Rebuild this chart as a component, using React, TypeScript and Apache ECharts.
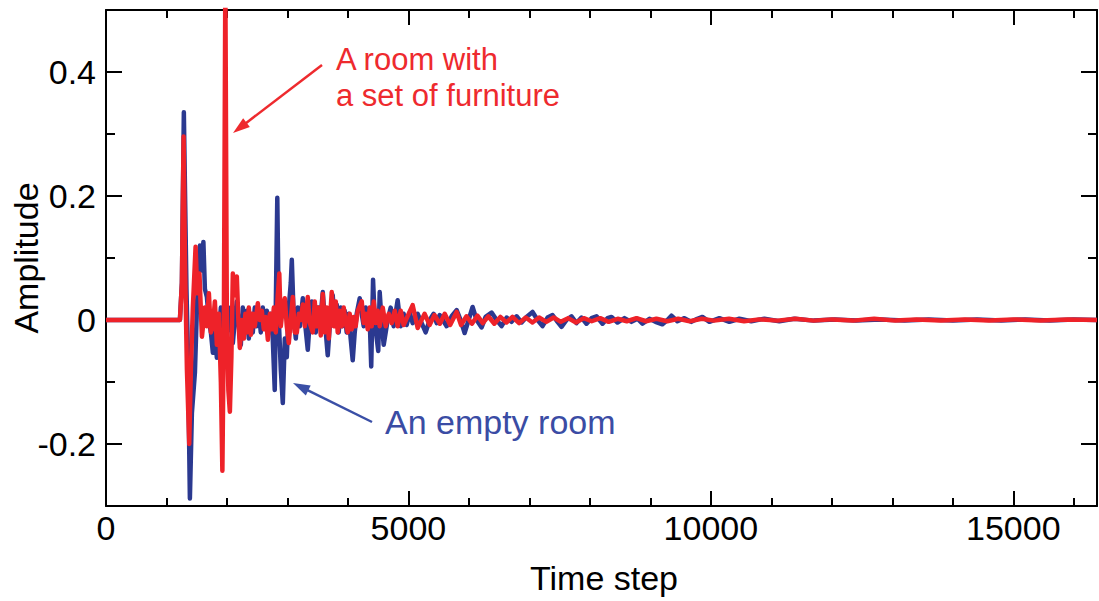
import React, { useEffect, useRef } from 'react';
import * as echarts from 'echarts';

const X_MIN = 0;
const X_MAX = 16384;
const Y_MIN = -0.3;
const Y_MAX = 0.5;

const xMajorInterval = 5000;
const xMinorInterval = 1000;
const yMajorInterval = 0.2;
const yMinorInterval = 0.1;

const xTitle = 'Time step';
const yTitle = 'Amplitude';
const furnishedLabel = ['A room with', 'a set of furniture'];
const emptyLabel = 'An empty room';

// [time step, amplitude] – empty room (blue)
const emptyRoom: number[][] = [
  [0, 0], [1200, 0], [1222, 0], [1255, 0.06], [1287, 0.335], [1330, 0.05], [1354, -0.05],
  [1387, -0.288], [1420, -0.15], [1470, -0.085], [1503, 0.02], [1553, 0.12], [1586, 0.08],
  [1610, 0.126], [1635, 0.05], [1668, 0.037], [1701, 0.0], [1734, -0.02], [1767, -0.053],
  [1800, -0.02], [1833, -0.061], [1866, -0.02], [1899, 0.02], [1932, -0.01], [1965, 0.02],
  [1998, -0.02], [2023, 0.02], [2064, -0.01], [2097, -0.037], [2130, 0.0], [2163, 0.03],
  [2196, -0.01], [2229, -0.04], [2262, 0.02], [2295, -0.02], [2328, 0.015], [2361, -0.03],
  [2394, 0.01], [2427, -0.02], [2460, 0.02], [2493, -0.01], [2526, 0.015], [2559, -0.02],
  [2592, 0.02], [2625, -0.01], [2658, 0.015], [2691, -0.02], [2724, 0.01], [2757, -0.03],
  [2790, -0.113], [2807, 0.02], [2832, 0.197], [2857, 0.0], [2890, -0.08], [2923, -0.134],
  [2956, -0.03], [2989, -0.06], [3022, 0.02], [3055, 0.06], [3072, 0.097], [3105, 0.0],
  [3138, -0.03], [3171, 0.02], [3204, -0.01], [3254, 0.035], [3286, 0.0], [3336, -0.048],
  [3369, 0.0], [3402, 0.03], [3435, 0.01], [3468, -0.02], [3501, 0.02], [3534, -0.01],
  [3584, 0.045], [3617, 0.0], [3666, -0.057], [3699, -0.01], [3748, 0.04], [3781, 0.0],
  [3814, 0.025], [3847, -0.02], [3880, 0.02], [3913, -0.01], [3946, 0.015], [3979, -0.02],
  [4012, 0.01], [4045, -0.03], [4079, -0.065], [4112, -0.02], [4145, 0.01], [4195, 0.035],
  [4228, 0.01], [4261, -0.01], [4294, 0.02], [4327, -0.01], [4360, 0.0], [4385, -0.075],
  [4415, 0.065], [4443, 0.0], [4476, -0.03], [4501, -0.05], [4525, 0.045], [4558, -0.005],
  [4591, -0.04], [4624, -0.02], [4657, 0.0], [4707, 0.02], [4756, -0.01], [4822, 0.032],
  [4872, -0.01], [4921, 0.01], [4971, -0.008], [5021, 0.012], [5070, -0.005], [5153, 0.01],
  [5219, -0.005], [5285, -0.02], [5351, 0.0], [5417, 0.01], [5467, -0.005], [5516, 0.008],
  [5632, -0.01], [5715, 0.006], [5797, 0.016], [5863, 0.0], [5929, -0.021], [5995, 0.0],
  [6061, 0.021], [6127, 0.0], [6210, -0.012], [6276, 0.005], [6375, 0.012], [6458, 0.0],
  [6540, -0.01], [6623, 0.004], [6705, -0.003], [6788, 0.006], [6871, -0.004], [6953, 0.005],
  [7052, 0.013], [7135, 0.0], [7217, -0.01], [7300, 0.004], [7382, 0.008], [7465, -0.003],
  [7531, -0.011], [7614, 0.0], [7696, 0.006], [7779, -0.005], [7861, 0.004], [7944, -0.006],
  [8027, 0.003], [8109, 0.006], [8209, -0.006], [8291, 0.003], [8357, 0.005], [8456, -0.004],
  [8572, 0.003], [8687, -0.003], [8787, 0.002], [8869, -0.006], [8985, 0.002], [9084, -0.003],
  [9199, -0.007], [9282, 0.0], [9348, 0.007], [9447, -0.002], [9563, 0.003], [9678, -0.003],
  [9777, 0.002], [9860, 0.005], [9976, -0.003], [10141, 0.003], [10306, -0.003], [10471, 0.002],
  [10669, -0.002], [10884, 0.002], [11132, -0.002], [11380, 0.002], [11700, -0.001],
  [12050, 0.001], [12400, -0.001], [12800, 0.001], [13200, -0.001], [13600, 0.001],
  [14000, -0.001], [14400, 0.001], [14800, -0.001], [15200, 0.001], [15600, -0.001],
  [16000, 0.001], [16384, 0],
];

// [time step, amplitude] – room with furniture (red)
const furnishedRoom: number[][] = [
  [0, 0], [1200, 0], [1222, 0], [1255, 0.06], [1283, 0.296], [1305, 0.1], [1338, -0.08],
  [1376, -0.2], [1403, -0.08], [1436, 0.02], [1481, 0.118], [1510, 0.043], [1545, 0.075],
  [1586, -0.027], [1635, 0.02], [1668, -0.01], [1701, 0.043], [1734, -0.02], [1767, -0.01],
  [1800, 0.03], [1833, -0.04], [1866, 0.01], [1899, -0.1], [1924, -0.243], [1949, 0.0],
  [1973, 0.55], [1998, 0.0], [2023, -0.113], [2048, -0.148], [2073, -0.06], [2097, 0.075],
  [2130, 0.04], [2163, 0.07], [2188, 0.0], [2213, -0.045], [2246, 0.0], [2279, -0.03],
  [2304, 0.01], [2328, -0.02], [2361, 0.02], [2394, -0.024], [2427, 0.01], [2460, -0.01],
  [2510, 0.027], [2543, 0.0], [2576, 0.015], [2609, -0.015], [2642, 0.005], [2676, -0.032],
  [2709, 0.01], [2742, -0.015], [2775, 0.02], [2807, -0.02], [2840, 0.04], [2865, 0.075],
  [2890, -0.01], [2923, 0.02], [2956, 0.035], [2989, -0.01], [3022, -0.037], [3055, 0.0],
  [3088, 0.037], [3121, -0.02], [3155, -0.02], [3188, 0.01], [3221, 0.0], [3254, 0.025],
  [3286, -0.01], [3336, 0.037], [3369, -0.005], [3418, -0.02], [3451, 0.03], [3484, -0.01],
  [3518, 0.02], [3551, -0.025], [3584, 0.042], [3617, -0.02], [3650, 0.02], [3683, -0.03],
  [3732, 0.045], [3765, -0.01], [3798, 0.03], [3831, -0.02], [3864, 0.015], [3897, -0.01],
  [3930, 0.02], [3963, -0.005], [3996, -0.02], [4029, 0.01], [4062, -0.015], [4095, 0.005],
  [4128, -0.01], [4162, 0.015], [4228, 0.03], [4261, -0.005], [4294, 0.01], [4327, -0.015],
  [4360, 0.02], [4393, -0.01], [4426, 0.03], [4459, -0.005], [4492, 0.015], [4525, -0.01],
  [4575, 0.02], [4624, -0.01], [4674, 0.01], [4723, -0.005], [4773, 0.015], [4822, -0.01],
  [4872, 0.015], [4921, -0.008], [5005, 0.01], [5070, 0.024], [5153, -0.013], [5268, 0.01],
  [5350, -0.008], [5430, 0.008], [5520, -0.006], [5600, 0.01], [5690, -0.008], [5797, 0.013],
  [5870, -0.008], [5960, 0.006], [6050, -0.006], [6140, 0.007], [6230, -0.005], [6320, 0.006],
  [6420, -0.006], [6520, 0.005], [6620, -0.004], [6720, 0.005], [6830, -0.005], [6940, 0.004],
  [7050, -0.004], [7160, 0.004], [7280, -0.003], [7400, 0.004], [7520, -0.003], [7640, 0.003],
  [7770, -0.004], [7900, 0.003], [8030, -0.002], [8170, 0.003], [8310, -0.003], [8460, 0.002],
  [8610, -0.002], [8770, 0.003], [8930, -0.002], [9100, 0.002], [9280, -0.002], [9460, 0.002],
  [9650, -0.002], [9850, 0.002], [10050, -0.001], [10300, 0.002], [10550, -0.002],
  [10800, 0.001], [11100, -0.001], [11400, 0.002], [11700, -0.001], [12000, 0.001],
  [12350, -0.001], [12700, 0.002], [13050, -0.001], [13400, 0.001], [13800, -0.001],
  [14200, 0.001], [14600, -0.001], [15000, 0.001], [15450, -0.001], [15900, 0.001], [16384, 0],
];

const FONT = "'Liberation Sans', Arial, Helvetica, sans-serif";
const BLUE_LINE = '#2b3990';
const RED_LINE = '#ee2229';
const BLUE_TEXT = '#3a4ca4';
const RED_TEXT = '#ee2a2e';

function xAxisDef(position: string, interval: number, tickLen: number, main: boolean) {
  return {
    type: 'value',
    position,
    min: X_MIN,
    max: X_MAX,
    interval,
    axisLine: { show: main, onZero: false, lineStyle: { color: '#000', width: 2 } },
    axisTick: { show: true, inside: true, length: tickLen, lineStyle: { color: '#000', width: 2 } },
    axisLabel: {
      show: main && position === 'bottom',
      fontSize: 34,
      color: '#000',
      fontFamily: FONT,
      margin: 5,
      formatter: (v: number) => String(v),
    },
    splitLine: { show: false },
  };
}

function yAxisDef(position: string, major: boolean) {
  const base: any = {
    type: 'value',
    position,
    min: Y_MIN,
    max: Y_MAX,
    axisLine: { show: major, onZero: false, lineStyle: { color: '#000', width: 2 } },
    axisTick: { show: true, inside: true, length: major ? 16 : 9, lineStyle: { color: '#000', width: 2 } },
    axisLabel: {
      show: major && position === 'left',
      fontSize: 34,
      color: '#000',
      fontFamily: FONT,
      margin: 10,
      showMinLabel: false,
      showMaxLabel: false,
      formatter: (v: number) => (Math.abs(v) < 1e-9 ? '0' : String(Math.round(v * 10) / 10)),
    },
    splitLine: { show: false },
  };
  if (major) {
    base.splitNumber = 4;
    base.minInterval = yMajorInterval;
    base.maxInterval = yMajorInterval;
  } else {
    base.interval = yMinorInterval;
  }
  return base;
}

function arrow(x1: number, y1: number, tx: number, ty: number, color: string) {
  const dx = tx - x1;
  const dy = ty - y1;
  const len = Math.sqrt(dx * dx + dy * dy);
  const ux = dx / len;
  const uy = dy / len;
  const headLen = 17;
  const headHalf = 5.5;
  const bx = tx - ux * headLen;
  const by = ty - uy * headLen;
  const px = -uy;
  const py = ux;
  return [
    {
      type: 'line',
      shape: { x1, y1, x2: bx + ux * 2, y2: by + uy * 2 },
      style: { stroke: color, lineWidth: 2.5 },
      silent: true,
    },
    {
      type: 'polygon',
      shape: {
        points: [
          [tx, ty],
          [bx + px * headHalf, by + py * headHalf],
          [bx - px * headHalf, by - py * headHalf],
        ],
      },
      style: { fill: color },
      silent: true,
    },
  ];
}

export default function App() {
  const ref = useRef<HTMLDivElement>(null);

  useEffect(() => {
    if (!ref.current) return;
    const chart = echarts.init(ref.current, undefined, { renderer: 'svg' });
    const option: any = {
      animation: false,
      backgroundColor: '#fff',
      grid: { left: 106, right: 2, top: 10, bottom: 95, containLabel: false },
      xAxis: [
        xAxisDef('bottom', xMajorInterval, 15, true),
        xAxisDef('bottom', xMinorInterval, 8, false),
        xAxisDef('top', xMajorInterval, 15, true),
        xAxisDef('top', xMinorInterval, 8, false),
      ],
      yAxis: [
        yAxisDef('left', true),
        yAxisDef('left', false),
        yAxisDef('right', true),
        yAxisDef('right', false),
      ],
      series: [
        {
          name: 'An empty room',
          type: 'line',
          xAxisIndex: 0,
          yAxisIndex: 0,
          data: emptyRoom,
          showSymbol: false,
          symbol: 'none',
          clip: true,
          lineStyle: { color: BLUE_LINE, width: 4.5, join: 'round' },
          z: 2,
        },
        {
          name: 'A room with a set of furniture',
          type: 'line',
          xAxisIndex: 0,
          yAxisIndex: 0,
          data: furnishedRoom,
          showSymbol: false,
          symbol: 'none',
          clip: true,
          lineStyle: { color: RED_LINE, width: 4.5, join: 'round' },
          z: 3,
        },
      ],
      graphic: [
        {
          type: 'text',
          x: 604,
          y: 578,
          style: { text: xTitle, font: `34px ${FONT}`, fill: '#000', align: 'center', verticalAlign: 'middle' },
        },
        {
          type: 'text',
          x: 26,
          y: 258,
          rotation: Math.PI / 2,
          style: { text: yTitle, font: `34px ${FONT}`, fill: '#000', align: 'center', verticalAlign: 'middle' },
        },
        {
          type: 'text',
          x: 336,
          y: 59,
          style: { text: furnishedLabel[0], font: `31px ${FONT}`, fill: RED_TEXT, align: 'left', verticalAlign: 'middle' },
        },
        {
          type: 'text',
          x: 336,
          y: 95,
          style: { text: furnishedLabel[1], font: `31px ${FONT}`, fill: RED_TEXT, align: 'left', verticalAlign: 'middle' },
        },
        {
          type: 'text',
          x: 385,
          y: 422,
          style: { text: emptyLabel, font: `34px ${FONT}`, fill: BLUE_TEXT, align: 'left', verticalAlign: 'middle' },
        },
        ...arrow(322, 65, 233, 133, RED_TEXT),
        ...arrow(372, 422, 293, 383, '#3a4fa6'),
      ],
    };
    chart.setOption(option);
    return () => chart.dispose();
  }, []);

  return (
    <div
      ref={ref}
      style={{ position: 'absolute', left: 0, top: 0, width: 1099, height: 601, background: '#fff' }}
    />
  );
}
